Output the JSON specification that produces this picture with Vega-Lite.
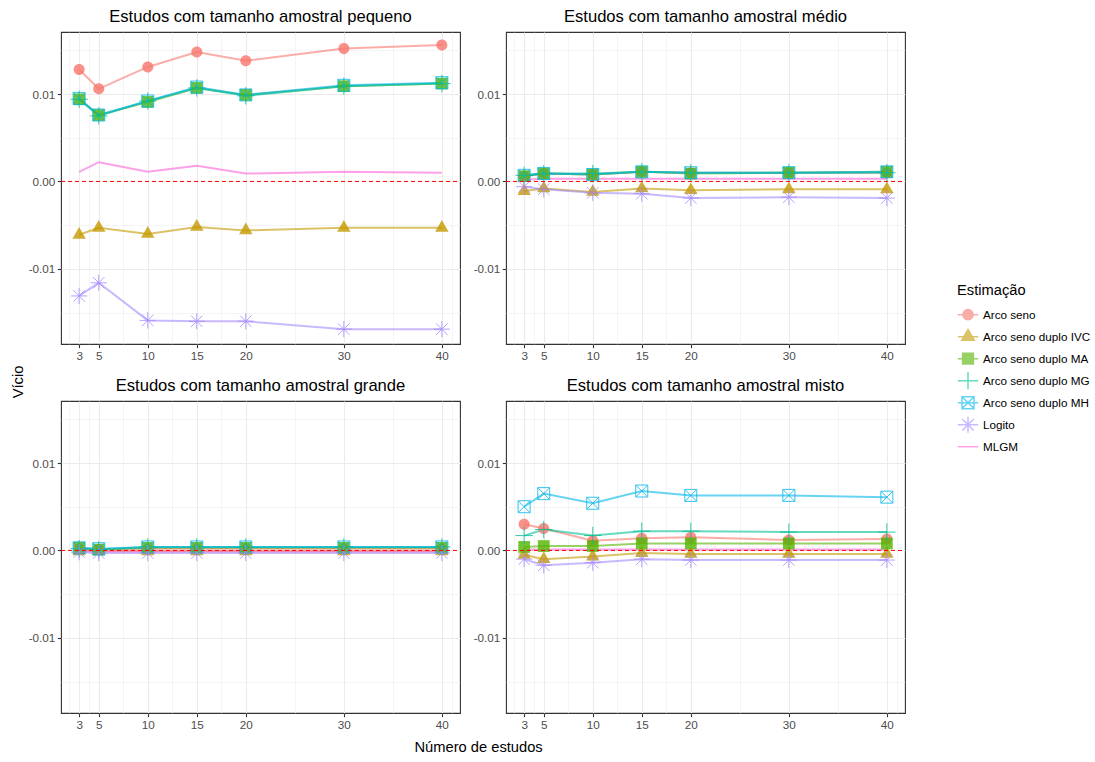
{
  "$schema": "https://vega.github.io/schema/vega-lite/v6.json",
  "background": "white",
  "padding": {"left": 10, "top": 8, "right": 5, "bottom": 5},
  "data": {"values": [
    {"painel":"pequeno","n":3,"metodo":"Arco seno","vicio":0.0128},
    {"painel":"pequeno","n":5,"metodo":"Arco seno","vicio":0.0106},
    {"painel":"pequeno","n":10,"metodo":"Arco seno","vicio":0.0131},
    {"painel":"pequeno","n":15,"metodo":"Arco seno","vicio":0.0148},
    {"painel":"pequeno","n":20,"metodo":"Arco seno","vicio":0.0138},
    {"painel":"pequeno","n":30,"metodo":"Arco seno","vicio":0.0152},
    {"painel":"pequeno","n":40,"metodo":"Arco seno","vicio":0.0156},
    {"painel":"pequeno","n":3,"metodo":"Arco seno duplo IVC","vicio":-0.0061},
    {"painel":"pequeno","n":5,"metodo":"Arco seno duplo IVC","vicio":-0.0053},
    {"painel":"pequeno","n":10,"metodo":"Arco seno duplo IVC","vicio":-0.006},
    {"painel":"pequeno","n":15,"metodo":"Arco seno duplo IVC","vicio":-0.0052},
    {"painel":"pequeno","n":20,"metodo":"Arco seno duplo IVC","vicio":-0.0056},
    {"painel":"pequeno","n":30,"metodo":"Arco seno duplo IVC","vicio":-0.0053},
    {"painel":"pequeno","n":40,"metodo":"Arco seno duplo IVC","vicio":-0.0053},
    {"painel":"pequeno","n":3,"metodo":"Arco seno duplo MA","vicio":0.0094},
    {"painel":"pequeno","n":5,"metodo":"Arco seno duplo MA","vicio":0.0076},
    {"painel":"pequeno","n":10,"metodo":"Arco seno duplo MA","vicio":0.0091},
    {"painel":"pequeno","n":15,"metodo":"Arco seno duplo MA","vicio":0.0107},
    {"painel":"pequeno","n":20,"metodo":"Arco seno duplo MA","vicio":0.0099},
    {"painel":"pequeno","n":30,"metodo":"Arco seno duplo MA","vicio":0.0109},
    {"painel":"pequeno","n":40,"metodo":"Arco seno duplo MA","vicio":0.0112},
    {"painel":"pequeno","n":3,"metodo":"Arco seno duplo MG","vicio":0.0094},
    {"painel":"pequeno","n":5,"metodo":"Arco seno duplo MG","vicio":0.0075},
    {"painel":"pequeno","n":10,"metodo":"Arco seno duplo MG","vicio":0.0092},
    {"painel":"pequeno","n":15,"metodo":"Arco seno duplo MG","vicio":0.0107},
    {"painel":"pequeno","n":20,"metodo":"Arco seno duplo MG","vicio":0.0098},
    {"painel":"pequeno","n":30,"metodo":"Arco seno duplo MG","vicio":0.0109},
    {"painel":"pequeno","n":40,"metodo":"Arco seno duplo MG","vicio":0.0112},
    {"painel":"pequeno","n":3,"metodo":"Arco seno duplo MH","vicio":0.0095},
    {"painel":"pequeno","n":5,"metodo":"Arco seno duplo MH","vicio":0.0076},
    {"painel":"pequeno","n":10,"metodo":"Arco seno duplo MH","vicio":0.0092},
    {"painel":"pequeno","n":15,"metodo":"Arco seno duplo MH","vicio":0.0108},
    {"painel":"pequeno","n":20,"metodo":"Arco seno duplo MH","vicio":0.0099},
    {"painel":"pequeno","n":30,"metodo":"Arco seno duplo MH","vicio":0.011},
    {"painel":"pequeno","n":40,"metodo":"Arco seno duplo MH","vicio":0.0113},
    {"painel":"pequeno","n":3,"metodo":"Logito","vicio":-0.0131},
    {"painel":"pequeno","n":5,"metodo":"Logito","vicio":-0.0116},
    {"painel":"pequeno","n":10,"metodo":"Logito","vicio":-0.0159},
    {"painel":"pequeno","n":15,"metodo":"Logito","vicio":-0.016},
    {"painel":"pequeno","n":20,"metodo":"Logito","vicio":-0.016},
    {"painel":"pequeno","n":30,"metodo":"Logito","vicio":-0.0169},
    {"painel":"pequeno","n":40,"metodo":"Logito","vicio":-0.0169},
    {"painel":"pequeno","n":3,"metodo":"MLGM","vicio":0.0011},
    {"painel":"pequeno","n":5,"metodo":"MLGM","vicio":0.0022},
    {"painel":"pequeno","n":10,"metodo":"MLGM","vicio":0.0011},
    {"painel":"pequeno","n":15,"metodo":"MLGM","vicio":0.0018},
    {"painel":"pequeno","n":20,"metodo":"MLGM","vicio":0.0009},
    {"painel":"pequeno","n":30,"metodo":"MLGM","vicio":0.0011},
    {"painel":"pequeno","n":40,"metodo":"MLGM","vicio":0.001},

    {"painel":"medio","n":3,"metodo":"Arco seno","vicio":0.0006},
    {"painel":"medio","n":5,"metodo":"Arco seno","vicio":0.0009},
    {"painel":"medio","n":10,"metodo":"Arco seno","vicio":0.0008},
    {"painel":"medio","n":15,"metodo":"Arco seno","vicio":0.0011},
    {"painel":"medio","n":20,"metodo":"Arco seno","vicio":0.001},
    {"painel":"medio","n":30,"metodo":"Arco seno","vicio":0.001},
    {"painel":"medio","n":40,"metodo":"Arco seno","vicio":0.001},
    {"painel":"medio","n":3,"metodo":"Arco seno duplo IVC","vicio":-0.0011},
    {"painel":"medio","n":5,"metodo":"Arco seno duplo IVC","vicio":-0.0008},
    {"painel":"medio","n":10,"metodo":"Arco seno duplo IVC","vicio":-0.0012},
    {"painel":"medio","n":15,"metodo":"Arco seno duplo IVC","vicio":-0.0008},
    {"painel":"medio","n":20,"metodo":"Arco seno duplo IVC","vicio":-0.001},
    {"painel":"medio","n":30,"metodo":"Arco seno duplo IVC","vicio":-0.0009},
    {"painel":"medio","n":40,"metodo":"Arco seno duplo IVC","vicio":-0.0009},
    {"painel":"medio","n":3,"metodo":"Arco seno duplo MA","vicio":0.0006},
    {"painel":"medio","n":5,"metodo":"Arco seno duplo MA","vicio":0.0009},
    {"painel":"medio","n":10,"metodo":"Arco seno duplo MA","vicio":0.0008},
    {"painel":"medio","n":15,"metodo":"Arco seno duplo MA","vicio":0.0011},
    {"painel":"medio","n":20,"metodo":"Arco seno duplo MA","vicio":0.0009},
    {"painel":"medio","n":30,"metodo":"Arco seno duplo MA","vicio":0.001},
    {"painel":"medio","n":40,"metodo":"Arco seno duplo MA","vicio":0.0011},
    {"painel":"medio","n":3,"metodo":"Arco seno duplo MG","vicio":0.0007},
    {"painel":"medio","n":5,"metodo":"Arco seno duplo MG","vicio":0.0009},
    {"painel":"medio","n":10,"metodo":"Arco seno duplo MG","vicio":0.0009},
    {"painel":"medio","n":15,"metodo":"Arco seno duplo MG","vicio":0.0011},
    {"painel":"medio","n":20,"metodo":"Arco seno duplo MG","vicio":0.001},
    {"painel":"medio","n":30,"metodo":"Arco seno duplo MG","vicio":0.001},
    {"painel":"medio","n":40,"metodo":"Arco seno duplo MG","vicio":0.001},
    {"painel":"medio","n":3,"metodo":"Arco seno duplo MH","vicio":0.0007},
    {"painel":"medio","n":5,"metodo":"Arco seno duplo MH","vicio":0.0009},
    {"painel":"medio","n":10,"metodo":"Arco seno duplo MH","vicio":0.0008},
    {"painel":"medio","n":15,"metodo":"Arco seno duplo MH","vicio":0.0011},
    {"painel":"medio","n":20,"metodo":"Arco seno duplo MH","vicio":0.001},
    {"painel":"medio","n":30,"metodo":"Arco seno duplo MH","vicio":0.001},
    {"painel":"medio","n":40,"metodo":"Arco seno duplo MH","vicio":0.0011},
    {"painel":"medio","n":3,"metodo":"Logito","vicio":-0.0006},
    {"painel":"medio","n":5,"metodo":"Logito","vicio":-0.0009},
    {"painel":"medio","n":10,"metodo":"Logito","vicio":-0.0013},
    {"painel":"medio","n":15,"metodo":"Logito","vicio":-0.0014},
    {"painel":"medio","n":20,"metodo":"Logito","vicio":-0.0019},
    {"painel":"medio","n":30,"metodo":"Logito","vicio":-0.0018},
    {"painel":"medio","n":40,"metodo":"Logito","vicio":-0.0019},
    {"painel":"medio","n":3,"metodo":"MLGM","vicio":0.0002},
    {"painel":"medio","n":5,"metodo":"MLGM","vicio":0.0003},
    {"painel":"medio","n":10,"metodo":"MLGM","vicio":0.0003},
    {"painel":"medio","n":15,"metodo":"MLGM","vicio":0.0003},
    {"painel":"medio","n":20,"metodo":"MLGM","vicio":0.0003},
    {"painel":"medio","n":30,"metodo":"MLGM","vicio":0.0003},
    {"painel":"medio","n":40,"metodo":"MLGM","vicio":0.0003},

    {"painel":"grande","n":3,"metodo":"Arco seno","vicio":0.0002},
    {"painel":"grande","n":5,"metodo":"Arco seno","vicio":0.0001},
    {"painel":"grande","n":10,"metodo":"Arco seno","vicio":0.0002},
    {"painel":"grande","n":15,"metodo":"Arco seno","vicio":0.0002},
    {"painel":"grande","n":20,"metodo":"Arco seno","vicio":0.0002},
    {"painel":"grande","n":30,"metodo":"Arco seno","vicio":0.0002},
    {"painel":"grande","n":40,"metodo":"Arco seno","vicio":0.0002},
    {"painel":"grande","n":3,"metodo":"Arco seno duplo IVC","vicio":-0.0001},
    {"painel":"grande","n":5,"metodo":"Arco seno duplo IVC","vicio":-0.0001},
    {"painel":"grande","n":10,"metodo":"Arco seno duplo IVC","vicio":-0.0001},
    {"painel":"grande","n":15,"metodo":"Arco seno duplo IVC","vicio":-0.0001},
    {"painel":"grande","n":20,"metodo":"Arco seno duplo IVC","vicio":-0.0001},
    {"painel":"grande","n":30,"metodo":"Arco seno duplo IVC","vicio":-0.0001},
    {"painel":"grande","n":40,"metodo":"Arco seno duplo IVC","vicio":-0.0001},
    {"painel":"grande","n":3,"metodo":"Arco seno duplo MA","vicio":0.0003},
    {"painel":"grande","n":5,"metodo":"Arco seno duplo MA","vicio":0.0001},
    {"painel":"grande","n":10,"metodo":"Arco seno duplo MA","vicio":0.0003},
    {"painel":"grande","n":15,"metodo":"Arco seno duplo MA","vicio":0.0003},
    {"painel":"grande","n":20,"metodo":"Arco seno duplo MA","vicio":0.0003},
    {"painel":"grande","n":30,"metodo":"Arco seno duplo MA","vicio":0.0003},
    {"painel":"grande","n":40,"metodo":"Arco seno duplo MA","vicio":0.0003},
    {"painel":"grande","n":3,"metodo":"Arco seno duplo MG","vicio":0.0002},
    {"painel":"grande","n":5,"metodo":"Arco seno duplo MG","vicio":0.0001},
    {"painel":"grande","n":10,"metodo":"Arco seno duplo MG","vicio":0.0004},
    {"painel":"grande","n":15,"metodo":"Arco seno duplo MG","vicio":0.0004},
    {"painel":"grande","n":20,"metodo":"Arco seno duplo MG","vicio":0.0004},
    {"painel":"grande","n":30,"metodo":"Arco seno duplo MG","vicio":0.0004},
    {"painel":"grande","n":40,"metodo":"Arco seno duplo MG","vicio":0.0004},
    {"painel":"grande","n":3,"metodo":"Arco seno duplo MH","vicio":0.0003},
    {"painel":"grande","n":5,"metodo":"Arco seno duplo MH","vicio":0.0002},
    {"painel":"grande","n":10,"metodo":"Arco seno duplo MH","vicio":0.0004},
    {"painel":"grande","n":15,"metodo":"Arco seno duplo MH","vicio":0.0004},
    {"painel":"grande","n":20,"metodo":"Arco seno duplo MH","vicio":0.0004},
    {"painel":"grande","n":30,"metodo":"Arco seno duplo MH","vicio":0.0004},
    {"painel":"grande","n":40,"metodo":"Arco seno duplo MH","vicio":0.0004},
    {"painel":"grande","n":3,"metodo":"Logito","vicio":-0.0002},
    {"painel":"grande","n":5,"metodo":"Logito","vicio":-0.0003},
    {"painel":"grande","n":10,"metodo":"Logito","vicio":-0.0003},
    {"painel":"grande","n":15,"metodo":"Logito","vicio":-0.0003},
    {"painel":"grande","n":20,"metodo":"Logito","vicio":-0.0003},
    {"painel":"grande","n":30,"metodo":"Logito","vicio":-0.0003},
    {"painel":"grande","n":40,"metodo":"Logito","vicio":-0.0003},
    {"painel":"grande","n":3,"metodo":"MLGM","vicio":0.0},
    {"painel":"grande","n":5,"metodo":"MLGM","vicio":-0.0001},
    {"painel":"grande","n":10,"metodo":"MLGM","vicio":-0.0001},
    {"painel":"grande","n":15,"metodo":"MLGM","vicio":-0.0001},
    {"painel":"grande","n":20,"metodo":"MLGM","vicio":-0.0001},
    {"painel":"grande","n":30,"metodo":"MLGM","vicio":-0.0001},
    {"painel":"grande","n":40,"metodo":"MLGM","vicio":-0.0001},

    {"painel":"misto","n":3,"metodo":"Arco seno","vicio":0.003},
    {"painel":"misto","n":5,"metodo":"Arco seno","vicio":0.0025},
    {"painel":"misto","n":10,"metodo":"Arco seno","vicio":0.0011},
    {"painel":"misto","n":15,"metodo":"Arco seno","vicio":0.0014},
    {"painel":"misto","n":20,"metodo":"Arco seno","vicio":0.0015},
    {"painel":"misto","n":30,"metodo":"Arco seno","vicio":0.0012},
    {"painel":"misto","n":40,"metodo":"Arco seno","vicio":0.0013},
    {"painel":"misto","n":3,"metodo":"Arco seno duplo IVC","vicio":-0.0005},
    {"painel":"misto","n":5,"metodo":"Arco seno duplo IVC","vicio":-0.001},
    {"painel":"misto","n":10,"metodo":"Arco seno duplo IVC","vicio":-0.0007},
    {"painel":"misto","n":15,"metodo":"Arco seno duplo IVC","vicio":-0.0003},
    {"painel":"misto","n":20,"metodo":"Arco seno duplo IVC","vicio":-0.0004},
    {"painel":"misto","n":30,"metodo":"Arco seno duplo IVC","vicio":-0.0004},
    {"painel":"misto","n":40,"metodo":"Arco seno duplo IVC","vicio":-0.0004},
    {"painel":"misto","n":3,"metodo":"Arco seno duplo MA","vicio":0.0004},
    {"painel":"misto","n":5,"metodo":"Arco seno duplo MA","vicio":0.0005},
    {"painel":"misto","n":10,"metodo":"Arco seno duplo MA","vicio":0.0005},
    {"painel":"misto","n":15,"metodo":"Arco seno duplo MA","vicio":0.0008},
    {"painel":"misto","n":20,"metodo":"Arco seno duplo MA","vicio":0.0008},
    {"painel":"misto","n":30,"metodo":"Arco seno duplo MA","vicio":0.0008},
    {"painel":"misto","n":40,"metodo":"Arco seno duplo MA","vicio":0.0008},
    {"painel":"misto","n":3,"metodo":"Arco seno duplo MG","vicio":0.0017},
    {"painel":"misto","n":5,"metodo":"Arco seno duplo MG","vicio":0.0024},
    {"painel":"misto","n":10,"metodo":"Arco seno duplo MG","vicio":0.0017},
    {"painel":"misto","n":15,"metodo":"Arco seno duplo MG","vicio":0.0022},
    {"painel":"misto","n":20,"metodo":"Arco seno duplo MG","vicio":0.0022},
    {"painel":"misto","n":30,"metodo":"Arco seno duplo MG","vicio":0.0021},
    {"painel":"misto","n":40,"metodo":"Arco seno duplo MG","vicio":0.0021},
    {"painel":"misto","n":3,"metodo":"Arco seno duplo MH","vicio":0.005},
    {"painel":"misto","n":5,"metodo":"Arco seno duplo MH","vicio":0.0065},
    {"painel":"misto","n":10,"metodo":"Arco seno duplo MH","vicio":0.0054},
    {"painel":"misto","n":15,"metodo":"Arco seno duplo MH","vicio":0.0068},
    {"painel":"misto","n":20,"metodo":"Arco seno duplo MH","vicio":0.0063},
    {"painel":"misto","n":30,"metodo":"Arco seno duplo MH","vicio":0.0063},
    {"painel":"misto","n":40,"metodo":"Arco seno duplo MH","vicio":0.0061},
    {"painel":"misto","n":3,"metodo":"Logito","vicio":-0.001},
    {"painel":"misto","n":5,"metodo":"Logito","vicio":-0.0017},
    {"painel":"misto","n":10,"metodo":"Logito","vicio":-0.0014},
    {"painel":"misto","n":15,"metodo":"Logito","vicio":-0.001},
    {"painel":"misto","n":20,"metodo":"Logito","vicio":-0.0011},
    {"painel":"misto","n":30,"metodo":"Logito","vicio":-0.0011},
    {"painel":"misto","n":40,"metodo":"Logito","vicio":-0.0011},
    {"painel":"misto","n":3,"metodo":"MLGM","vicio":0.0001},
    {"painel":"misto","n":5,"metodo":"MLGM","vicio":0.0001},
    {"painel":"misto","n":10,"metodo":"MLGM","vicio":0.0001},
    {"painel":"misto","n":15,"metodo":"MLGM","vicio":0.0001},
    {"painel":"misto","n":20,"metodo":"MLGM","vicio":0.0001},
    {"painel":"misto","n":30,"metodo":"MLGM","vicio":0.0001},
    {"painel":"misto","n":40,"metodo":"MLGM","vicio":0.0001}
  ]},
  "config": {
    "font": "Liberation Sans",
    "view": {"stroke": "#333333", "strokeWidth": 1.1},
    "title": {"fontWeight": "normal", "color": "#000000", "font": "Liberation Sans"},
    "legend": {
      "orient": "none",
      "legendX": 896,
      "legendY": 251,
      "padding": 0,
      "titleFontSize": 14.7,
      "titleFontWeight": "normal",
      "titleColor": "#000000",
      "titlePadding": 6,
      "labelFontSize": 11.7,
      "labelColor": "#000000",
      "labelOffset": 4,
      "symbolSize": 416,
      "symbolStrokeWidth": 1.5,
      "clipHeight": 22,
      "rowPadding": 0
    }
  },
  "title": {"text": "Vício", "orient": "left", "fontSize": 14.7, "anchor": "middle", "offset": 2},
  "vconcat": [
    {
      "title": {"text": "Número de estudos", "orient": "bottom", "fontSize": 14.7, "anchor": "middle", "offset": 9, "dx": 11},
      "columns": 2,
      "spacing": {"row": 14, "column": 9},
      "concat": [
        {
          "title": {"text": "Estudos com tamanho amostral pequeno", "fontSize": 16.6, "anchor": "middle", "offset": 6},
          "width": 399, "height": 312,
          "transform": [{"filter": "datum.painel === 'pequeno'"}],
          "encoding": {
            "x": {"field": "n", "type": "quantitative", "scale": {"domain": [1.15, 41.85], "nice": false, "zero": false},
              "axis": {"title": null, "values": [2,3,4,5,7.5,10,12.5,15,17.5,20,25,30,35,40,41], "labelExpr": "indexof([3,5,10,15,20,30,40], datum.value) >= 0 ? datum.label : ''", "tickOpacity": {"condition": {"test": "indexof([3,5,10,15,20,30,40], datum.value) >= 0", "value": 1}, "value": 0}, "gridWidth": {"condition": {"test": "indexof([3,5,10,15,20,30,40], datum.value) >= 0", "value": 1.1}, "value": 0.55}, "gridColor": "#EBEBEB", "domain": false, "tickColor": "#333333", "tickSize": 3.7, "tickWidth": 1.1, "labelColor": "#4D4D4D", "labelFontSize": 11.7, "labelPadding": 2.5, "labelOverlap": false, "labelFlush": false, "labelBound": false}},
            "y": {"field": "vicio", "type": "quantitative", "scale": {"domain": [-0.0186, 0.0171], "nice": false, "zero": false},
              "axis": {"title": null, "values": [-0.015,-0.01,-0.005,0,0.005,0.01,0.015], "labelExpr": "abs(round(datum.value*1000)) % 10 == 0 ? (datum.value < 0 ? '-' : '') + format(abs(datum.value), '.2f') : ''", "tickOpacity": {"condition": {"test": "abs(round(datum.value*1000)) % 10 == 0", "value": 1}, "value": 0}, "gridWidth": {"condition": {"test": "abs(round(datum.value*1000)) % 10 == 0", "value": 1.1}, "value": 0.55}, "gridColor": "#EBEBEB", "domain": false, "tickColor": "#333333", "tickSize": 3.7, "tickWidth": 1.1, "labelColor": "#4D4D4D", "labelFontSize": 11.7, "labelPadding": 2.5, "labelOverlap": false, "labelFlush": false, "labelBound": false}},
            "color": {"field": "metodo", "type": "nominal",
              "scale": {"domain": ["Arco seno","Arco seno duplo IVC","Arco seno duplo MA","Arco seno duplo MG","Arco seno duplo MH","Logito","MLGM"], "range": ["#F8766D","#C49A00","#53B400","#00C094","#00B6EB","#A58AFF","#FB61D7"]},
              "legend": {"title": "Estimação", "encode": {"symbols": {"stroke": {"value": {"signal": "scale('color', datum.value)"}}, "opacity": {"value": 0.8}, "strokeWidth": {"value": 1.5}}}}}
          },
          "layer": [
            {"mark": {"type": "line", "strokeWidth": 2, "opacity": 0.6}},
            {"transform": [{"filter": "datum.metodo === 'Arco seno'"}], "mark": {"type": "point", "filled": true, "size": 144, "opacity": 0.8, "shape": "M-0.92,0A0.92,0.92 0 1,1 0.92,0A0.92,0.92 0 1,1 -0.92,0Z"}},
            {"transform": [{"filter": "datum.metodo === 'Arco seno duplo IVC'"}], "mark": {"type": "point", "filled": true, "size": 144, "opacity": 0.8, "shape": "M0,-1.3L1.12,0.65L-1.12,0.65Z"}},
            {"transform": [{"filter": "datum.metodo === 'Arco seno duplo MA'"}], "mark": {"type": "point", "filled": true, "size": 144, "opacity": 0.8, "shape": "M-0.98,-0.98H0.98V0.98H-0.98Z"}},
            {"transform": [{"filter": "datum.metodo === 'Arco seno duplo MG'"}], "mark": {"type": "point", "filled": false, "strokeWidth": 1, "size": 144, "opacity": 0.8, "shape": "M-1.45,0H1.45M0,-1.45V1.45"}},
            {"transform": [{"filter": "datum.metodo === 'Arco seno duplo MH'"}], "mark": {"type": "point", "filled": false, "strokeWidth": 1, "size": 144, "opacity": 0.8, "shape": "M-1,-1H1V1H-1ZM-1,-1L1,1M-1,1L1,-1"}},
            {"transform": [{"filter": "datum.metodo === 'Logito'"}], "mark": {"type": "point", "filled": false, "strokeWidth": 1, "size": 144, "opacity": 0.8, "shape": "M-1.35,0H1.35M0,-1.35V1.35M-0.95,-0.95L0.95,0.95M-0.95,0.95L0.95,-0.95"}},
            {"transform": [{"filter": "false"}], "mark": {"type": "point", "opacity": 0.8},
             "encoding": {
               "shape": {"field": "metodo", "type": "nominal", "legend": {"title": "Estimação"},
                 "scale": {"domain": ["Arco seno","Arco seno duplo IVC","Arco seno duplo MA","Arco seno duplo MG","Arco seno duplo MH","Logito","MLGM"], "range": ["M0,-1M0,1M-1,0H1M-0.5,0A0.5,0.5 0 1,1 0.5,0A0.5,0.5 0 1,1 -0.5,0Z","M0,-1M0,1M-1,0H1M0,-0.71L0.61,0.35L-0.61,0.35Z","M0,-1M0,1M-1,0H1M-0.53,-0.53H0.53V0.53H-0.53Z","M0,-1M0,1M-1,0H1M0,-0.85V0.85","M0,-1M0,1M-1,0H1M-0.59,-0.59H0.59V0.59H-0.59ZM-0.59,-0.59V0.59H0.59V-0.59ZM-0.59,-0.59L0.59,0.59M-0.59,0.59L0.59,-0.59","M0,-1M0,1M-1,0H1M0,-0.79V0.79M-0.56,-0.56L0.56,0.56M-0.56,0.56L0.56,-0.56","M0,-1M0,1M-1,0H1"]}}
             }},
            {"data": {"values": [{"painel": "pequeno", "n": 1.15, "vicio": 0}, {"painel": "pequeno", "n": 41.85, "vicio": 0}]},
             "mark": {"type": "line", "strokeDash": [4, 3], "strokeWidth": 1},
             "encoding": {"color": {"value": "#FF0000"}}}
          ]
        },
        {
          "title": {"text": "Estudos com tamanho amostral médio", "fontSize": 16.6, "anchor": "middle", "offset": 6},
          "width": 399, "height": 312,
          "transform": [{"filter": "datum.painel === 'medio'"}],
          "encoding": {
            "x": {"field": "n", "type": "quantitative", "scale": {"domain": [1.15, 41.85], "nice": false, "zero": false},
              "axis": {"title": null, "values": [2,3,4,5,7.5,10,12.5,15,17.5,20,25,30,35,40,41], "labelExpr": "indexof([3,5,10,15,20,30,40], datum.value) >= 0 ? datum.label : ''", "tickOpacity": {"condition": {"test": "indexof([3,5,10,15,20,30,40], datum.value) >= 0", "value": 1}, "value": 0}, "gridWidth": {"condition": {"test": "indexof([3,5,10,15,20,30,40], datum.value) >= 0", "value": 1.1}, "value": 0.55}, "gridColor": "#EBEBEB", "domain": false, "tickColor": "#333333", "tickSize": 3.7, "tickWidth": 1.1, "labelColor": "#4D4D4D", "labelFontSize": 11.7, "labelPadding": 2.5, "labelOverlap": false, "labelFlush": false, "labelBound": false}},
            "y": {"field": "vicio", "type": "quantitative", "scale": {"domain": [-0.0186, 0.0171], "nice": false, "zero": false},
              "axis": {"title": null, "values": [-0.015,-0.01,-0.005,0,0.005,0.01,0.015], "labelExpr": "abs(round(datum.value*1000)) % 10 == 0 ? (datum.value < 0 ? '-' : '') + format(abs(datum.value), '.2f') : ''", "tickOpacity": {"condition": {"test": "abs(round(datum.value*1000)) % 10 == 0", "value": 1}, "value": 0}, "gridWidth": {"condition": {"test": "abs(round(datum.value*1000)) % 10 == 0", "value": 1.1}, "value": 0.55}, "gridColor": "#EBEBEB", "domain": false, "tickColor": "#333333", "tickSize": 3.7, "tickWidth": 1.1, "labelColor": "#4D4D4D", "labelFontSize": 11.7, "labelPadding": 2.5, "labelOverlap": false, "labelFlush": false, "labelBound": false}},
            "color": {"field": "metodo", "type": "nominal",
              "legend": {"title": "Estimação", "encode": {"symbols": {"stroke": {"value": {"signal": "scale('color', datum.value)"}}, "opacity": {"value": 0.8}, "strokeWidth": {"value": 1.5}}}}}
          },
          "layer": [
            {"mark": {"type": "line", "strokeWidth": 2, "opacity": 0.6}},
            {"transform": [{"filter": "datum.metodo === 'Arco seno'"}], "mark": {"type": "point", "filled": true, "size": 144, "opacity": 0.8, "shape": "M-0.92,0A0.92,0.92 0 1,1 0.92,0A0.92,0.92 0 1,1 -0.92,0Z"}},
            {"transform": [{"filter": "datum.metodo === 'Arco seno duplo IVC'"}], "mark": {"type": "point", "filled": true, "size": 144, "opacity": 0.8, "shape": "M0,-1.3L1.12,0.65L-1.12,0.65Z"}},
            {"transform": [{"filter": "datum.metodo === 'Arco seno duplo MA'"}], "mark": {"type": "point", "filled": true, "size": 144, "opacity": 0.8, "shape": "M-0.98,-0.98H0.98V0.98H-0.98Z"}},
            {"transform": [{"filter": "datum.metodo === 'Arco seno duplo MG'"}], "mark": {"type": "point", "filled": false, "strokeWidth": 1, "size": 144, "opacity": 0.8, "shape": "M-1.45,0H1.45M0,-1.45V1.45"}},
            {"transform": [{"filter": "datum.metodo === 'Arco seno duplo MH'"}], "mark": {"type": "point", "filled": false, "strokeWidth": 1, "size": 144, "opacity": 0.8, "shape": "M-1,-1H1V1H-1ZM-1,-1L1,1M-1,1L1,-1"}},
            {"transform": [{"filter": "datum.metodo === 'Logito'"}], "mark": {"type": "point", "filled": false, "strokeWidth": 1, "size": 144, "opacity": 0.8, "shape": "M-1.35,0H1.35M0,-1.35V1.35M-0.95,-0.95L0.95,0.95M-0.95,0.95L0.95,-0.95"}},
            {"data": {"values": [{"painel": "medio", "n": 1.15, "vicio": 0}, {"painel": "medio", "n": 41.85, "vicio": 0}]},
             "mark": {"type": "line", "strokeDash": [4, 3], "strokeWidth": 1},
             "encoding": {"color": {"value": "#FF0000"}}}
          ]
        },
        {
          "title": {"text": "Estudos com tamanho amostral grande", "fontSize": 16.6, "anchor": "middle", "offset": 6},
          "width": 399, "height": 312,
          "transform": [{"filter": "datum.painel === 'grande'"}],
          "encoding": {
            "x": {"field": "n", "type": "quantitative", "scale": {"domain": [1.15, 41.85], "nice": false, "zero": false},
              "axis": {"title": null, "values": [2,3,4,5,7.5,10,12.5,15,17.5,20,25,30,35,40,41], "labelExpr": "indexof([3,5,10,15,20,30,40], datum.value) >= 0 ? datum.label : ''", "tickOpacity": {"condition": {"test": "indexof([3,5,10,15,20,30,40], datum.value) >= 0", "value": 1}, "value": 0}, "gridWidth": {"condition": {"test": "indexof([3,5,10,15,20,30,40], datum.value) >= 0", "value": 1.1}, "value": 0.55}, "gridColor": "#EBEBEB", "domain": false, "tickColor": "#333333", "tickSize": 3.7, "tickWidth": 1.1, "labelColor": "#4D4D4D", "labelFontSize": 11.7, "labelPadding": 2.5, "labelOverlap": false, "labelFlush": false, "labelBound": false}},
            "y": {"field": "vicio", "type": "quantitative", "scale": {"domain": [-0.0186, 0.0171], "nice": false, "zero": false},
              "axis": {"title": null, "values": [-0.015,-0.01,-0.005,0,0.005,0.01,0.015], "labelExpr": "abs(round(datum.value*1000)) % 10 == 0 ? (datum.value < 0 ? '-' : '') + format(abs(datum.value), '.2f') : ''", "tickOpacity": {"condition": {"test": "abs(round(datum.value*1000)) % 10 == 0", "value": 1}, "value": 0}, "gridWidth": {"condition": {"test": "abs(round(datum.value*1000)) % 10 == 0", "value": 1.1}, "value": 0.55}, "gridColor": "#EBEBEB", "domain": false, "tickColor": "#333333", "tickSize": 3.7, "tickWidth": 1.1, "labelColor": "#4D4D4D", "labelFontSize": 11.7, "labelPadding": 2.5, "labelOverlap": false, "labelFlush": false, "labelBound": false}},
            "color": {"field": "metodo", "type": "nominal",
              "legend": {"title": "Estimação", "encode": {"symbols": {"stroke": {"value": {"signal": "scale('color', datum.value)"}}, "opacity": {"value": 0.8}, "strokeWidth": {"value": 1.5}}}}}
          },
          "layer": [
            {"mark": {"type": "line", "strokeWidth": 2, "opacity": 0.6}},
            {"transform": [{"filter": "datum.metodo === 'Arco seno'"}], "mark": {"type": "point", "filled": true, "size": 144, "opacity": 0.8, "shape": "M-0.92,0A0.92,0.92 0 1,1 0.92,0A0.92,0.92 0 1,1 -0.92,0Z"}},
            {"transform": [{"filter": "datum.metodo === 'Arco seno duplo IVC'"}], "mark": {"type": "point", "filled": true, "size": 144, "opacity": 0.8, "shape": "M0,-1.3L1.12,0.65L-1.12,0.65Z"}},
            {"transform": [{"filter": "datum.metodo === 'Arco seno duplo MA'"}], "mark": {"type": "point", "filled": true, "size": 144, "opacity": 0.8, "shape": "M-0.98,-0.98H0.98V0.98H-0.98Z"}},
            {"transform": [{"filter": "datum.metodo === 'Arco seno duplo MG'"}], "mark": {"type": "point", "filled": false, "strokeWidth": 1, "size": 144, "opacity": 0.8, "shape": "M-1.45,0H1.45M0,-1.45V1.45"}},
            {"transform": [{"filter": "datum.metodo === 'Arco seno duplo MH'"}], "mark": {"type": "point", "filled": false, "strokeWidth": 1, "size": 144, "opacity": 0.8, "shape": "M-1,-1H1V1H-1ZM-1,-1L1,1M-1,1L1,-1"}},
            {"transform": [{"filter": "datum.metodo === 'Logito'"}], "mark": {"type": "point", "filled": false, "strokeWidth": 1, "size": 144, "opacity": 0.8, "shape": "M-1.35,0H1.35M0,-1.35V1.35M-0.95,-0.95L0.95,0.95M-0.95,0.95L0.95,-0.95"}},
            {"data": {"values": [{"painel": "grande", "n": 1.15, "vicio": 0}, {"painel": "grande", "n": 41.85, "vicio": 0}]},
             "mark": {"type": "line", "strokeDash": [4, 3], "strokeWidth": 1},
             "encoding": {"color": {"value": "#FF0000"}}}
          ]
        },
        {
          "title": {"text": "Estudos com tamanho amostral misto", "fontSize": 16.6, "anchor": "middle", "offset": 6},
          "width": 399, "height": 312,
          "transform": [{"filter": "datum.painel === 'misto'"}],
          "encoding": {
            "x": {"field": "n", "type": "quantitative", "scale": {"domain": [1.15, 41.85], "nice": false, "zero": false},
              "axis": {"title": null, "values": [2,3,4,5,7.5,10,12.5,15,17.5,20,25,30,35,40,41], "labelExpr": "indexof([3,5,10,15,20,30,40], datum.value) >= 0 ? datum.label : ''", "tickOpacity": {"condition": {"test": "indexof([3,5,10,15,20,30,40], datum.value) >= 0", "value": 1}, "value": 0}, "gridWidth": {"condition": {"test": "indexof([3,5,10,15,20,30,40], datum.value) >= 0", "value": 1.1}, "value": 0.55}, "gridColor": "#EBEBEB", "domain": false, "tickColor": "#333333", "tickSize": 3.7, "tickWidth": 1.1, "labelColor": "#4D4D4D", "labelFontSize": 11.7, "labelPadding": 2.5, "labelOverlap": false, "labelFlush": false, "labelBound": false}},
            "y": {"field": "vicio", "type": "quantitative", "scale": {"domain": [-0.0186, 0.0171], "nice": false, "zero": false},
              "axis": {"title": null, "values": [-0.015,-0.01,-0.005,0,0.005,0.01,0.015], "labelExpr": "abs(round(datum.value*1000)) % 10 == 0 ? (datum.value < 0 ? '-' : '') + format(abs(datum.value), '.2f') : ''", "tickOpacity": {"condition": {"test": "abs(round(datum.value*1000)) % 10 == 0", "value": 1}, "value": 0}, "gridWidth": {"condition": {"test": "abs(round(datum.value*1000)) % 10 == 0", "value": 1.1}, "value": 0.55}, "gridColor": "#EBEBEB", "domain": false, "tickColor": "#333333", "tickSize": 3.7, "tickWidth": 1.1, "labelColor": "#4D4D4D", "labelFontSize": 11.7, "labelPadding": 2.5, "labelOverlap": false, "labelFlush": false, "labelBound": false}},
            "color": {"field": "metodo", "type": "nominal",
              "legend": {"title": "Estimação", "encode": {"symbols": {"stroke": {"value": {"signal": "scale('color', datum.value)"}}, "opacity": {"value": 0.8}, "strokeWidth": {"value": 1.5}}}}}
          },
          "layer": [
            {"mark": {"type": "line", "strokeWidth": 2, "opacity": 0.6}},
            {"transform": [{"filter": "datum.metodo === 'Arco seno'"}], "mark": {"type": "point", "filled": true, "size": 144, "opacity": 0.8, "shape": "M-0.92,0A0.92,0.92 0 1,1 0.92,0A0.92,0.92 0 1,1 -0.92,0Z"}},
            {"transform": [{"filter": "datum.metodo === 'Arco seno duplo IVC'"}], "mark": {"type": "point", "filled": true, "size": 144, "opacity": 0.8, "shape": "M0,-1.3L1.12,0.65L-1.12,0.65Z"}},
            {"transform": [{"filter": "datum.metodo === 'Arco seno duplo MA'"}], "mark": {"type": "point", "filled": true, "size": 144, "opacity": 0.8, "shape": "M-0.98,-0.98H0.98V0.98H-0.98Z"}},
            {"transform": [{"filter": "datum.metodo === 'Arco seno duplo MG'"}], "mark": {"type": "point", "filled": false, "strokeWidth": 1, "size": 144, "opacity": 0.8, "shape": "M-1.45,0H1.45M0,-1.45V1.45"}},
            {"transform": [{"filter": "datum.metodo === 'Arco seno duplo MH'"}], "mark": {"type": "point", "filled": false, "strokeWidth": 1, "size": 144, "opacity": 0.8, "shape": "M-1,-1H1V1H-1ZM-1,-1L1,1M-1,1L1,-1"}},
            {"transform": [{"filter": "datum.metodo === 'Logito'"}], "mark": {"type": "point", "filled": false, "strokeWidth": 1, "size": 144, "opacity": 0.8, "shape": "M-1.35,0H1.35M0,-1.35V1.35M-0.95,-0.95L0.95,0.95M-0.95,0.95L0.95,-0.95"}},
            {"data": {"values": [{"painel": "misto", "n": 1.15, "vicio": 0}, {"painel": "misto", "n": 41.85, "vicio": 0}]},
             "mark": {"type": "line", "strokeDash": [4, 3], "strokeWidth": 1},
             "encoding": {"color": {"value": "#FF0000"}}}
          ]
        }
      ]
    }
  ]
}
